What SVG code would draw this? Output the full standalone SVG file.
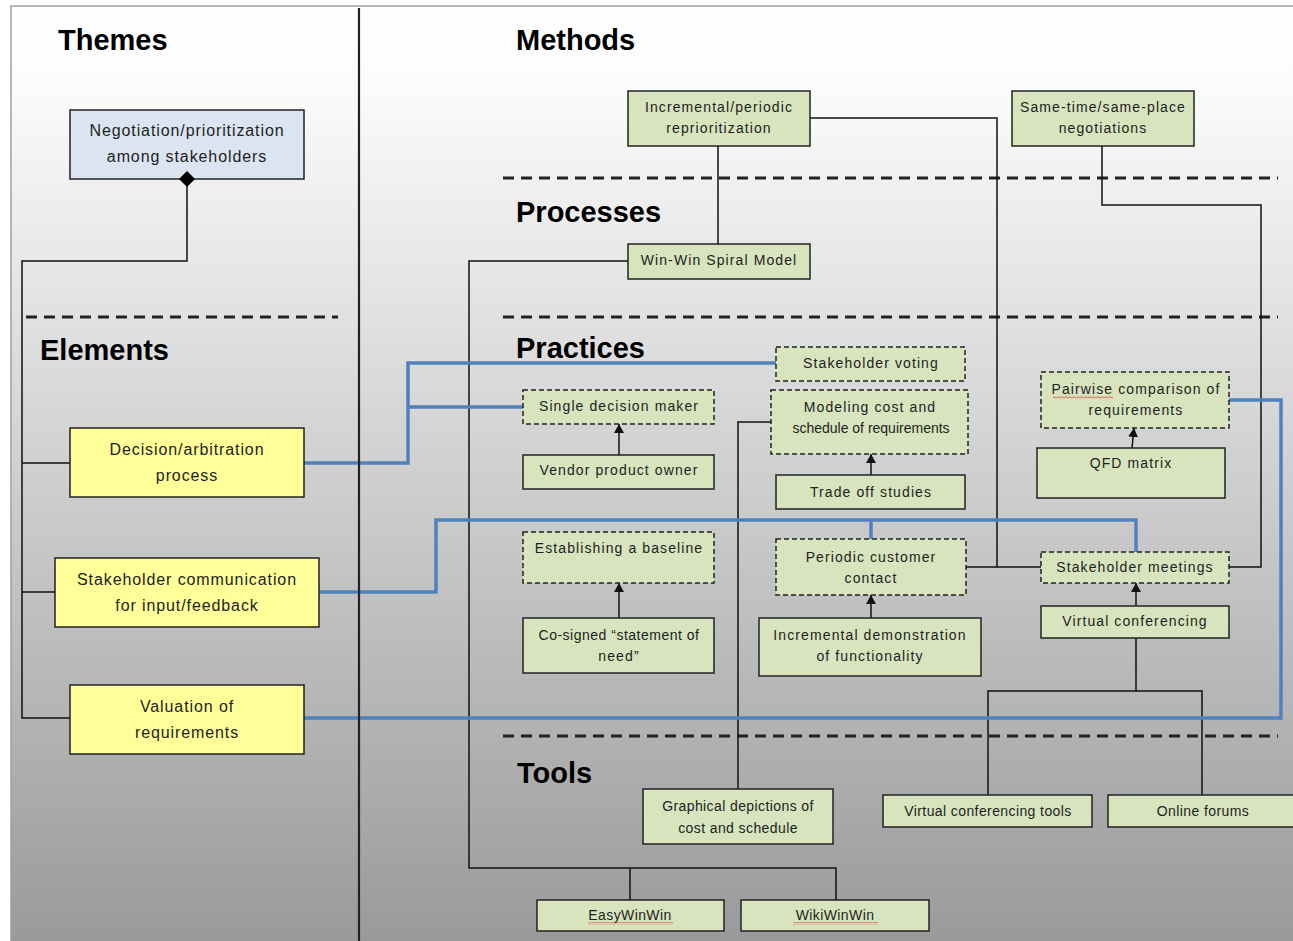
<svg xmlns="http://www.w3.org/2000/svg" width="1293" height="941" viewBox="0 0 1293 941">
<defs>
<linearGradient id="bg" gradientUnits="userSpaceOnUse" x1="0" y1="6" x2="0" y2="941">
<stop offset="0" stop-color="#ffffff"/>
<stop offset="0.08" stop-color="#fcfcfc"/>
<stop offset="1" stop-color="#9a9a9a"/>
</linearGradient>
<marker id="arr" markerWidth="9" markerHeight="10" refX="9" refY="5" orient="auto" markerUnits="userSpaceOnUse">
<path d="M0,0 L9,5 L0,10 z" fill="#111"/>
</marker>
<pattern id="sq" width="4" height="3" patternUnits="userSpaceOnUse">
<path d="M0,2.5 L2,0.5 L4,2.5" stroke="#e02020" fill="none" stroke-width="0.8"/>
</pattern>
<style>
.box{stroke:#222;stroke-width:1.5}
.g{fill:#d7e4bd}
.y{fill:#ffff99}
.b{fill:#dbe5f1}
.d{stroke-dasharray:5 3}
.t{font-family:"Liberation Sans",Arial,sans-serif;font-size:14px;letter-spacing:1.1px;fill:#1e1e1e;text-anchor:middle}
.te{font-family:"Liberation Sans",Arial,sans-serif;font-size:16px;letter-spacing:0.9px;fill:#1e1e1e;text-anchor:middle}
.tt{font-family:"Liberation Sans",Arial,sans-serif;font-size:14px;letter-spacing:0.4px;fill:#1e1e1e;text-anchor:middle}
.h{font-family:"Liberation Sans",Arial,sans-serif;font-size:29px;font-weight:bold;fill:#000}
.k{fill:none;stroke:#111;stroke-width:1.5}
.bl{fill:none;stroke:#4f81bd;stroke-width:3.5}
.dash{fill:none;stroke:#222;stroke-width:3;stroke-dasharray:11 7}
</style>
</defs>

<rect x="0" y="0" width="1293" height="941" fill="#ffffff"/>
<rect x="11" y="6" width="1300" height="950" fill="url(#bg)" stroke="#a0a0a0" stroke-width="1.5"/>

<g id="headings">
<text class="h" x="58" y="50">Themes</text>
<text class="h" x="516" y="50">Methods</text>
<text class="h" x="516" y="222">Processes</text>
<text class="h" x="40" y="360">Elements</text>
<text class="h" x="516" y="358">Practices</text>
<text class="h" x="517" y="783">Tools</text>
</g>

<g id="separators">
<line class="dash" x1="503" y1="178" x2="1278" y2="178"/>
<line class="dash" x1="26" y1="317" x2="338" y2="317"/>
<line class="dash" x1="503" y1="317" x2="1278" y2="317"/>
<line class="dash" x1="503" y1="736" x2="1278" y2="736"/>
</g>

<g id="connectors">
<path class="k" d="M187,186 V261 H22 V718 H70"/>
<path class="k" d="M22,463 H70"/>
<path class="k" d="M22,592 H55"/>
<path class="k" d="M718,146 V244"/>
<path class="k" d="M810,118 H997 V567 H1041"/>
<path class="k" d="M966,567 H997"/>
<path class="k" d="M1102,146 V205 H1261 V567 H1229"/>
<path class="k" d="M628,261 H469 V868 H836 V900"/>
<path class="k" d="M630,868 V900"/>
<path class="k" d="M771,422 H738 V789"/>
<path class="k" d="M1136,638 V691 H988 V795"/>
<path class="k" d="M1136,691 H1202 V795"/>
<path class="k" d="M619,455 V424" marker-end="url(#arr)"/>
<path class="k" d="M871,475 V454" marker-end="url(#arr)"/>
<path class="k" d="M1132,448 L1134,428" marker-end="url(#arr)"/>
<path class="k" d="M619,618 V583" marker-end="url(#arr)"/>
<path class="k" d="M871,618 V595" marker-end="url(#arr)"/>
<path class="k" d="M1136,606 V583" marker-end="url(#arr)"/>
<path class="bl" d="M304,463 H408 V363 H776"/>
<path class="bl" d="M408,407 H523"/>
<path class="bl" d="M319,592 H436 V520 H1136 V552"/>
<path class="bl" d="M871,520 V539"/>
<path class="bl" d="M304,718 H1281 V400 H1229"/>
</g>

<line x1="359" y1="8" x2="359" y2="941" stroke="#222" stroke-width="2.2"/>

<g id="n-negotiation">
<rect class="box b" x="70" y="110" width="234" height="69"/>
<text class="te" x="187" y="136">Negotiation/prioritization</text>
<text class="te" x="187" y="162">among stakeholders</text>
<path d="M187,171 L195,179 L187,187 L179,179 z" fill="#000"/>
</g>

<g id="n-decision">
<rect class="box y" x="70" y="428" width="234" height="69"/>
<text class="te" x="187" y="455">Decision/arbitration</text>
<text class="te" x="187" y="481">process</text>
</g>
<g id="n-stakecomm">
<rect class="box y" x="55" y="558" width="264" height="69"/>
<text class="te" x="187" y="585">Stakeholder communication</text>
<text class="te" x="187" y="611">for input/feedback</text>
</g>
<g id="n-valuation">
<rect class="box y" x="70" y="685" width="234" height="69"/>
<text class="te" x="187" y="712">Valuation of</text>
<text class="te" x="187" y="738">requirements</text>
</g>

<g id="n-incremental">
<rect class="box g" x="628" y="91" width="182" height="55"/>
<text class="t" x="719" y="112">Incremental/periodic</text>
<text class="t" x="719" y="133">reprioritization</text>
</g>
<g id="n-sametime">
<rect class="box g" x="1012" y="91" width="182" height="55"/>
<text class="t" x="1103" y="112">Same-time/same-place</text>
<text class="t" x="1103" y="133">negotiations</text>
</g>
<g id="n-winwin">
<rect class="box g" x="628" y="244" width="182" height="35"/>
<text class="t" x="719" y="265">Win-Win Spiral Model</text>
</g>

<g id="n-voting">
<rect class="box g d" x="776" y="347" width="189" height="34"/>
<text class="t" x="871" y="368">Stakeholder voting</text>
</g>
<g id="n-single">
<rect class="box g d" x="523" y="390" width="191" height="34"/>
<text class="t" x="619" y="411">Single decision maker</text>
</g>
<g id="n-vendor">
<rect class="box g" x="523" y="455" width="191" height="34"/>
<text class="t" x="619" y="475">Vendor product owner</text>
</g>
<g id="n-modeling">
<rect class="box g d" x="771" y="390" width="197" height="64"/>
<text class="t" x="870" y="412">Modeling cost and</text>
<text class="t" x="871" y="433" style="letter-spacing:0">schedule of requirements</text>
</g>
<g id="n-tradeoff">
<rect class="box g" x="776" y="475" width="189" height="34"/>
<text class="t" x="871" y="497">Trade off studies</text>
</g>
<g id="n-pairwise">
<rect class="box g d" x="1041" y="372" width="188" height="56"/>
<text class="t" x="1136" y="394">Pairwise comparison of</text>
<text class="t" x="1136" y="415">requirements</text>
<rect x="1053" y="396" width="60" height="3" fill="url(#sq)"/>
</g>
<g id="n-qfd">
<rect class="box g" x="1037" y="448" width="188" height="50"/>
<text class="t" x="1131" y="468">QFD matrix</text>
</g>
<g id="n-baseline">
<rect class="box g d" x="523" y="532" width="191" height="51"/>
<text class="t" x="619" y="553">Establishing a baseline</text>
</g>
<g id="n-cosigned">
<rect class="box g" x="523" y="618" width="191" height="55"/>
<text class="t" x="619" y="640" style="letter-spacing:0.5px">Co-signed “statement of</text>
<text class="t" x="619" y="661">need”</text>
</g>
<g id="n-periodic">
<rect class="box g d" x="776" y="539" width="190" height="56"/>
<text class="t" x="871" y="562">Periodic customer</text>
<text class="t" x="871" y="583">contact</text>
</g>
<g id="n-incdemo">
<rect class="box g" x="759" y="618" width="222" height="58"/>
<text class="t" x="870" y="640">Incremental demonstration</text>
<text class="t" x="870" y="661">of functionality</text>
</g>
<g id="n-meetings">
<rect class="box g d" x="1041" y="552" width="188" height="31"/>
<text class="t" x="1135" y="572">Stakeholder meetings</text>
</g>
<g id="n-virtual">
<rect class="box g" x="1041" y="606" width="188" height="32"/>
<text class="t" x="1135" y="626">Virtual conferencing</text>
</g>

<g id="n-graphical">
<rect class="box g" x="643" y="789" width="190" height="55"/>
<text class="tt" x="738" y="811">Graphical depictions of</text>
<text class="tt" x="738" y="833">cost and schedule</text>
</g>
<g id="n-vctools">
<rect class="box g" x="883" y="795" width="209" height="32"/>
<text class="tt" x="988" y="816">Virtual conferencing tools</text>
</g>
<g id="n-forums">
<rect class="box g" x="1108" y="795" width="190" height="32"/>
<text class="tt" x="1203" y="816">Online forums</text>
</g>
<g id="n-easywinwin">
<rect class="box g" x="537" y="900" width="187" height="31"/>
<text class="tt" x="630" y="920">EasyWinWin</text>
<rect x="588" y="922" width="85" height="3" fill="url(#sq)"/>
</g>
<g id="n-wikiwinwin">
<rect class="box g" x="741" y="900" width="188" height="31"/>
<text class="tt" x="835" y="920">WikiWinWin</text>
<rect x="793" y="922" width="85" height="3" fill="url(#sq)"/>
</g>
</svg>
